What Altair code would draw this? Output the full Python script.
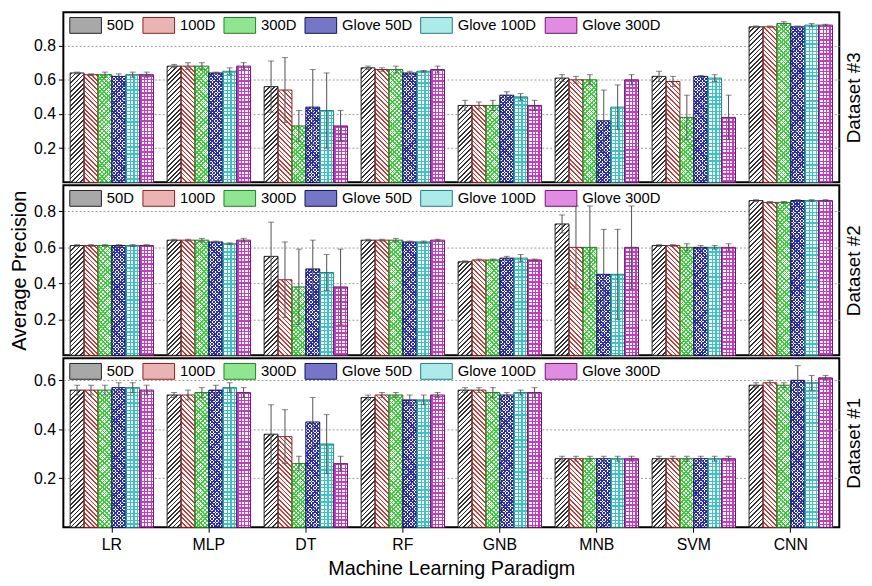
import altair as alt

models = ["LR", "MLP", "DT", "RF", "GNB", "MNB", "SVM", "CNN"]
series = ["50D", "100D", "300D", "Glove 50D", "Glove 100D", "Glove 300D"]

# Dataset #3 (top panel): rows = models, columns = series
ds3_mean = [
    [0.64, 0.63, 0.63, 0.62, 0.63, 0.63],
    [0.68, 0.68, 0.68, 0.64, 0.65, 0.68],
    [0.56, 0.54, 0.33, 0.44, 0.42, 0.33],
    [0.67, 0.66, 0.66, 0.64, 0.65, 0.66],
    [0.45, 0.45, 0.45, 0.51, 0.50, 0.45],
    [0.61, 0.60, 0.60, 0.36, 0.44, 0.60],
    [0.62, 0.59, 0.38, 0.62, 0.61, 0.38],
    [0.91, 0.91, 0.93, 0.91, 0.92, 0.92],
]
ds3_err = [
    [0.005, 0.005, 0.015, 0.015, 0.015, 0.015],
    [0.01, 0.02, 0.02, 0.005, 0.02, 0.02],
    [0.15, 0.19, 0.09, 0.22, 0.22, 0.09],
    [0.01, 0.01, 0.02, 0.01, 0.005, 0.02],
    [0.03, 0.02, 0.03, 0.02, 0.02, 0.03],
    [0.02, 0.02, 0.03, 0.18, 0.13, 0.03],
    [0.03, 0.03, 0.13, 0.005, 0.02, 0.13],
    [0.005, 0.005, 0.01, 0.005, 0.01, 0.005],
]

# Dataset #2 (middle panel)
ds2_mean = [
    [0.61, 0.61, 0.61, 0.61, 0.61, 0.61],
    [0.64, 0.64, 0.64, 0.63, 0.62, 0.64],
    [0.55, 0.42, 0.38, 0.48, 0.46, 0.38],
    [0.64, 0.64, 0.64, 0.63, 0.63, 0.64],
    [0.52, 0.53, 0.53, 0.54, 0.54, 0.53],
    [0.73, 0.60, 0.60, 0.45, 0.45, 0.60],
    [0.61, 0.61, 0.60, 0.60, 0.60, 0.60],
    [0.86, 0.85, 0.85, 0.86, 0.86, 0.86],
]
ds2_err = [
    [0.005, 0.005, 0.005, 0.005, 0.005, 0.005],
    [0.005, 0.005, 0.01, 0.005, 0.005, 0.01],
    [0.19, 0.21, 0.21, 0.16, 0.10, 0.21],
    [0.005, 0.005, 0.01, 0.005, 0.005, 0.005],
    [0.005, 0.005, 0.005, 0.01, 0.02, 0.005],
    [0.05, 0.23, 0.23, 0.25, 0.25, 0.23],
    [0.005, 0.005, 0.02, 0.01, 0.01, 0.02],
    [0.005, 0.005, 0.005, 0.005, 0.005, 0.005],
]

# Dataset #1 (bottom panel)
ds1_mean = [
    [0.56, 0.56, 0.56, 0.57, 0.57, 0.56],
    [0.54, 0.54, 0.55, 0.56, 0.57, 0.55],
    [0.38, 0.37, 0.26, 0.43, 0.34, 0.26],
    [0.53, 0.54, 0.54, 0.52, 0.52, 0.54],
    [0.56, 0.56, 0.55, 0.54, 0.55, 0.55],
    [0.28, 0.28, 0.28, 0.28, 0.28, 0.28],
    [0.28, 0.28, 0.28, 0.28, 0.28, 0.28],
    [0.58, 0.59, 0.58, 0.60, 0.59, 0.61],
]
ds1_err = [
    [0.02, 0.02, 0.02, 0.02, 0.02, 0.02],
    [0.01, 0.02, 0.02, 0.02, 0.02, 0.02],
    [0.12, 0.11, 0.03, 0.10, 0.12, 0.03],
    [0.01, 0.01, 0.01, 0.02, 0.02, 0.01],
    [0.01, 0.01, 0.02, 0.01, 0.01, 0.02],
    [0.01, 0.01, 0.01, 0.01, 0.01, 0.01],
    [0.01, 0.01, 0.01, 0.01, 0.01, 0.01],
    [0.01, 0.01, 0.01, 0.06, 0.03, 0.01],
]

FONT = "Liberation Sans"
PLOT_W = 785
fills = ["#a8a8a8", "#ebb4b4", "#90e690", "#7676c6", "#adebeb", "#e08ce0"]
strokes = ["#222222", "#8a2020", "#1f7f1f", "#101060", "#1f7f7f", "#701070"]
CLEAR = "rgba(255,255,255,0)"
# hatch patterns: (direction, colour, period px, line width px)
patterns = {
    "50D": [("/", "#303030", 4.6, 1.7)],
    "100D": [("\\", "#c43c3c", 4.6, 1.7)],
    "300D": [("/", "#3ccc3c", 4.4, 1.6), ("\\", "#3ccc3c", 4.4, 1.6)],
    "Glove 50D": [("/", "#2c2ca8", 3.4, 1.5), ("\\", "#2c2ca8", 3.4, 1.5)],
    "Glove 100D": [("|", "#3cc4c4", 3.6, 1.2), ("-", "#3cc4c4", 3.6, 1.2)],
    "Glove 300D": [("|", "#c43cc4", 3.5, 1.4), ("-", "#c43cc4", 3.5, 1.4)],
}
# wide legend swatch (symbolSize 256 -> 8 px per unit): 32 x 16 px box
symbol_path = "M-1,-1H3V1H-1Z"


def hatch(kind, color, bg, period, lw, w, h):
    if kind in ("/", "\\"):
        r = h / w
        dmax = w + h
        a = max(1.0, dmax / (w * (1 + r * r))) * 1.02
        scale = a * w * (1 + r * r)
        if kind == "/":
            g = {"gradient": "linear", "x1": 0, "y1": 0, "x2": a, "y2": a * r}
        else:
            g = {"gradient": "linear", "x1": 0, "y1": 1, "x2": a, "y2": 1 - a * r}
    elif kind == "|":
        dmax, scale = w, w
        g = {"gradient": "linear", "x1": 0, "y1": 0, "x2": 1, "y2": 0}
    else:
        dmax, scale = h, h
        g = {"gradient": "linear", "x1": 0, "y1": 0, "x2": 0.000001, "y2": 1}
    stops = [{"offset": 0, "color": bg}]
    s = 0.5
    while s < dmax:
        t0 = round(min(1.0, s / scale), 5)
        t1 = round(min(1.0, (s + lw) / scale), 5)
        stops += [{"offset": t0, "color": bg}, {"offset": t0, "color": color},
                  {"offset": t1, "color": color}, {"offset": t1, "color": bg}]
        s += period
    g["stops"] = stops
    return g


def make_rows(mean, err, ymax, height):
    step = PLOT_W / (len(models) - 0.14 + 2 * 0.07)
    w = step * (1 - 0.14) / len(series)
    rows = []
    for i, m in enumerate(models):
        for j, s in enumerate(series):
            v = mean[i][j]
            e = err[i][j]
            h = max(2.0, v / ymax * height)
            pat = patterns[s]
            k1, c1, p1, l1 = pat[0]
            g1 = hatch(k1, c1, "#ffffff", p1, l1, w, h)
            if len(pat) > 1:
                k2, c2, p2, l2 = pat[1]
                g2 = hatch(k2, c2, CLEAR, p2, l2, w, h)
            else:
                g2 = CLEAR
            rows.append({"model": m, "series": s, "mean": v, "lo": v - e, "hi": v + e,
                         "g1": g1, "g2": g2})
    return rows


def panel(mean, err, ymax, ticks, label, height, bottom=False, ytitle=None):
    base = alt.Chart(alt.Data(values=make_rows(mean, err, ymax, height)))
    if bottom:
        xaxis = alt.Axis(title="Machine Learning Paradigm", labelAngle=0, labelFontSize=16,
                         titleFontSize=20, tickSize=5, labelPadding=4, titlePadding=7,
                         domain=False)
    else:
        xaxis = None
    x = alt.X("model:N", sort=models,
              scale=alt.Scale(paddingInner=0.14, paddingOuter=0.07), axis=xaxis)
    xo = alt.XOffset("series:N", sort=series, scale=alt.Scale(paddingInner=0, paddingOuter=0))
    ysc = alt.Scale(domain=[0, ymax], nice=False, zero=True)
    left_axis = alt.Axis(values=ticks, format=".1f", grid=True, tickSize=5, labelPadding=3,
                         labelFontSize=16, domain=False, title=ytitle, titlePadding=4,
                         titleFontSize=20)
    right_axis = alt.Axis(orient="right", title=label, titleAngle=270, titleBaseline="top",
                          titleFontSize=19, labels=False, ticks=False, domain=False,
                          grid=False, titleX=5, titleY=height / 2)
    legend = alt.Legend(orient="none", legendX=6, legendY=4.5, direction="horizontal",
                        title=None, padding=0, labelFontSize=15, labelFont=FONT,
                        symbolType=symbol_path, symbolSize=256, symbolStrokeWidth=1,
                        columnPadding=6, labelOffset=21, symbolOpacity=1, columns=6)
    key = base.mark_bar(opacity=0).encode(
        x=x, xOffset=xo,
        y=alt.Y("mean:Q", scale=ysc, axis=left_axis, stack=None),
        fill=alt.Fill("series:N", sort=series,
                      scale=alt.Scale(domain=series, range=fills), legend=legend),
        stroke=alt.Stroke("series:N", sort=series,
                          scale=alt.Scale(domain=series, range=strokes), legend=legend),
    )
    under = base.mark_bar(strokeWidth=0).encode(
        x=x, xOffset=xo,
        y=alt.Y("mean:Q", scale=ysc, axis=None, stack=None),
        fill=alt.Fill("g1:N", scale=None),
    )
    over = base.mark_bar(strokeWidth=1).encode(
        x=x, xOffset=xo,
        y=alt.Y("mean:Q", scale=ysc, axis=None, stack=None),
        fill=alt.Fill("g2:N", scale=None),
        stroke=alt.Stroke("series:N", scale=alt.Scale(domain=series, range=strokes),
                          legend=None),
    )
    rules = base.mark_rule(color="#505050", strokeWidth=1).encode(
        x=x, xOffset=xo,
        y=alt.Y("lo:Q", scale=ysc, axis=right_axis),
        y2="hi:Q",
    )
    cap_hi = base.mark_tick(color="#505050", thickness=1, size=6).encode(
        x=x, xOffset=xo, y=alt.Y("hi:Q", scale=ysc, axis=None))
    cap_lo = base.mark_tick(color="#505050", thickness=1, size=6).encode(
        x=x, xOffset=xo, y=alt.Y("lo:Q", scale=ysc, axis=None))
    return alt.layer(key, under, over, rules, cap_hi, cap_lo).resolve_axis(
        y="independent").properties(width=PLOT_W, height=height)


p3 = panel(ds3_mean, ds3_err, 0.995, [0.2, 0.4, 0.6, 0.8], "Dataset #3", 172)
p2 = panel(ds2_mean, ds2_err, 0.945, [0.2, 0.4, 0.6, 0.8], "Dataset #2", 172,
           ytitle="Average Precision")
p1 = panel(ds1_mean, ds1_err, 0.69, [0.2, 0.4, 0.6], "Dataset #1", 171, bottom=True)

chart = alt.vconcat(p3, p2, p1, spacing=0).resolve_scale(
    fill="independent", stroke="independent"
).resolve_legend(fill="independent", stroke="independent").properties(
    padding=0
).configure_view(stroke="black", strokeWidth=2).configure_axis(
    labelFont=FONT, titleFont=FONT, labelColor="black", titleColor="black",
    tickColor="black", domainColor="black", titleFontWeight="normal",
    gridColor="#999999", gridDash=[2, 2], gridWidth=1,
).configure_legend(labelFont=FONT, labelColor="black")

chart.save("out.html", embed_options={"renderer": "svg", "actions": False})
